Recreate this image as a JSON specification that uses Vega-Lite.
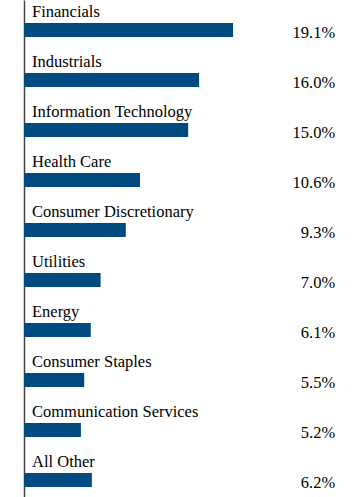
{
  "$schema": "https://vega.github.io/schema/vega-lite/v6.json",
  "autosize": "none",
  "padding": {"left": 24, "top": 0, "right": 0, "bottom": 0},
  "width": 336,
  "height": {"step": 50},
  "background": "white",
  "config": {"view": {"stroke": null}, "font": "'Liberation Serif', 'Times New Roman', Times, serif"},
  "data": {"values": [
    {"sector": "Financials", "pct": 19.1, "label": "19.1%"},
    {"sector": "Industrials", "pct": 16.0, "label": "16.0%"},
    {"sector": "Information Technology", "pct": 15.0, "label": "15.0%"},
    {"sector": "Health Care", "pct": 10.6, "label": "10.6%"},
    {"sector": "Consumer Discretionary", "pct": 9.3, "label": "9.3%"},
    {"sector": "Utilities", "pct": 7.0, "label": "7.0%"},
    {"sector": "Energy", "pct": 6.1, "label": "6.1%"},
    {"sector": "Consumer Staples", "pct": 5.5, "label": "5.5%"},
    {"sector": "Communication Services", "pct": 5.2, "label": "5.2%"},
    {"sector": "All Other", "pct": 6.2, "label": "6.2%"}
  ]},
  "encoding": {
    "y": {"field": "sector", "type": "nominal", "sort": null,
          "scale": {"paddingInner": 0, "paddingOuter": 0},
          "axis": {"title": null, "labels": false, "ticks": false, "grid": false,
                   "domain": true, "domainColor": "#444444", "domainWidth": 1.5}}
  },
  "layer": [
    {
      "mark": {"type": "bar", "color": "#004a80", "size": 14, "yOffset": 5},
      "encoding": {
        "x": {"field": "pct", "type": "quantitative",
              "scale": {"domain": [0, 30.7], "nice": false, "zero": true},
              "axis": null}
      }
    },
    {
      "mark": {"type": "text", "align": "left", "baseline": "alphabetic", "dx": 8, "dy": -8,
               "font": "'Liberation Serif', 'Times New Roman', Times, serif", "fontSize": 16.5, "color": "#000000"},
      "encoding": {
        "x": {"datum": 0, "type": "quantitative"},
        "text": {"field": "sector"}
      }
    },
    {
      "mark": {"type": "text", "align": "right", "baseline": "alphabetic", "dy": 12.5,
               "font": "'Liberation Serif', 'Times New Roman', Times, serif", "fontSize": 16.5, "color": "#000000"},
      "encoding": {
        "x": {"datum": 28.43, "type": "quantitative"},
        "text": {"field": "label"}
      }
    }
  ]
}
